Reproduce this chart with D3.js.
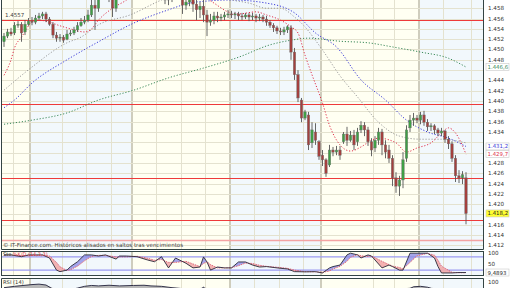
<!DOCTYPE html>
<html>
<head>
<meta charset="utf-8">
<script src="https://cdn.jsdelivr.net/npm/d3@7"></script>
<style>
html, body { margin: 0; padding: 0; background: #fff; overflow: hidden; }
svg { display: block; font-family: "DejaVu Sans", Verdana, sans-serif; }
</style>
</head>
<body>
<svg id="chart" width="512" height="288"></svg>
<script>
// candles (price), one per session
const opens = [1.4515,1.4526,1.4534,1.4532,1.4547,1.4549,1.4534,1.4549,1.4555,1.4553,
  1.4561,1.4565,1.4569,1.4559,1.4549,1.4528,1.4522,1.4524,1.4520,1.4530,
  1.4532,1.4538,1.4546,1.4553,1.4557,1.4567,1.4586,1.4580,1.4606,1.4619,
  1.4625,1.4606,1.4580,1.4602,1.4619,1.4635,1.4645,1.4639,1.4650,1.4643,
  1.4654,1.4646,1.4635,1.4639,1.4625,1.4615,1.4608,1.4596,1.4600,1.4608,
  1.4615,1.4604,1.4586,1.4592,1.4600,1.4588,1.4577,1.4584,1.4567,1.4553,
  1.4557,1.4565,1.4561,1.4563,1.4567,1.4569,1.4567,1.4569,1.4565,1.4563,
  1.4567,1.4563,1.4565,1.4561,1.4563,1.4559,1.4553,1.4547,1.4542,1.4536,
  1.4534,1.4538,1.4542,1.4495,1.4451,1.4402,1.4367,1.4373,1.4319,1.4340,
  1.4321,1.4295,1.4286,1.4276,1.4305,1.4301,1.4305,1.4321,1.4336,1.4324,
  1.4334,1.4321,1.4344,1.4353,1.4344,1.4321,1.4309,1.4324,1.4340,1.4315,
  1.4305,1.4289,1.4251,1.4235,1.4247,1.4289,1.4348,1.4363,1.4367,1.4363,
  1.4373,1.4359,1.4350,1.4352,1.4344,1.4338,1.4342,1.4326,1.4317,1.4289,
  1.4255,1.4251,1.4251];
const highs = [1.4532,1.4540,1.4542,1.4553,1.4555,1.4553,1.4557,1.4561,1.4563,1.4567,
  1.4571,1.4573,1.4573,1.4563,1.4553,1.4534,1.4530,1.4528,1.4538,1.4538,
  1.4544,1.4553,1.4561,1.4565,1.4577,1.4600,1.4606,1.4619,1.4631,1.4639,
  1.4635,1.4612,1.4615,1.4631,1.4646,1.4654,1.4658,1.4662,1.4660,1.4666,
  1.4664,1.4654,1.4650,1.4645,1.4635,1.4623,1.4615,1.4612,1.4619,1.4625,
  1.4623,1.4608,1.4602,1.4608,1.4608,1.4596,1.4592,1.4596,1.4577,1.4569,
  1.4573,1.4573,1.4569,1.4573,1.4577,1.4575,1.4573,1.4573,1.4571,1.4571,
  1.4571,1.4571,1.4569,1.4569,1.4567,1.4565,1.4557,1.4551,1.4546,1.4542,
  1.4544,1.4547,1.4547,1.4503,1.4460,1.4406,1.4383,1.4379,1.4359,1.4357,
  1.4324,1.4305,1.4289,1.4315,1.4311,1.4313,1.4313,1.4340,1.4350,1.4342,
  1.4344,1.4348,1.4361,1.4359,1.4350,1.4328,1.4332,1.4348,1.4346,1.4324,
  1.4315,1.4295,1.4262,1.4255,1.4301,1.4353,1.4373,1.4377,1.4373,1.4379,
  1.4381,1.4365,1.4357,1.4355,1.4348,1.4348,1.4344,1.4332,1.4322,1.4295,
  1.4266,1.4264,1.4262];
const lows = [1.4505,1.4522,1.4526,1.4528,1.4542,1.4515,1.4528,1.4546,1.4547,1.4549,
  1.4557,1.4559,1.4553,1.4546,1.4522,1.4515,1.4515,1.4513,1.4518,1.4526,
  1.4528,1.4534,1.4544,1.4549,1.4553,1.4563,1.4538,1.4573,1.4596,1.4606,
  1.4592,1.4563,1.4573,1.4596,1.4612,1.4625,1.4631,1.4631,1.4635,1.4635,
  1.4639,1.4625,1.4625,1.4615,1.4606,1.4600,1.4588,1.4586,1.4592,1.4600,
  1.4596,1.4569,1.4577,1.4584,1.4573,1.4557,1.4561,1.4553,1.4526,1.4546,
  1.4549,1.4553,1.4555,1.4557,1.4561,1.4561,1.4559,1.4557,1.4557,1.4559,
  1.4555,1.4557,1.4553,1.4555,1.4553,1.4546,1.4542,1.4534,1.4530,1.4528,
  1.4528,1.4532,1.4480,1.4441,1.4398,1.4359,1.4363,1.4305,1.4309,1.4315,
  1.4286,1.4274,1.4253,1.4272,1.4293,1.4295,1.4286,1.4317,1.4313,1.4321,
  1.4305,1.4313,1.4338,1.4332,1.4313,1.4293,1.4301,1.4315,1.4295,1.4289,
  1.4280,1.4235,1.4222,1.4216,1.4231,1.4282,1.4340,1.4352,1.4357,1.4355,
  1.4352,1.4342,1.4342,1.4336,1.4332,1.4332,1.4319,1.4307,1.4282,1.4243,
  1.4241,1.4239,1.4161];
const closes = [1.4526,1.4534,1.4530,1.4547,1.4549,1.4532,1.4549,1.4555,1.4553,1.4561,
  1.4565,1.4569,1.4559,1.4549,1.4528,1.4522,1.4524,1.4518,1.4530,1.4532,
  1.4538,1.4546,1.4553,1.4557,1.4567,1.4586,1.4580,1.4606,1.4619,1.4625,
  1.4606,1.4580,1.4602,1.4619,1.4635,1.4645,1.4639,1.4650,1.4643,1.4654,
  1.4646,1.4635,1.4639,1.4625,1.4615,1.4608,1.4596,1.4600,1.4608,1.4615,
  1.4604,1.4586,1.4592,1.4600,1.4588,1.4577,1.4584,1.4567,1.4553,1.4557,
  1.4565,1.4561,1.4563,1.4567,1.4569,1.4567,1.4569,1.4565,1.4563,1.4567,
  1.4563,1.4565,1.4561,1.4563,1.4559,1.4553,1.4547,1.4542,1.4536,1.4534,
  1.4538,1.4544,1.4495,1.4451,1.4406,1.4367,1.4379,1.4315,1.4344,1.4324,
  1.4293,1.4286,1.4260,1.4305,1.4301,1.4305,1.4295,1.4336,1.4324,1.4334,
  1.4315,1.4340,1.4353,1.4344,1.4321,1.4305,1.4324,1.4340,1.4315,1.4301,
  1.4289,1.4251,1.4235,1.4247,1.4286,1.4344,1.4363,1.4367,1.4363,1.4373,
  1.4359,1.4350,1.4352,1.4344,1.4338,1.4342,1.4326,1.4317,1.4289,1.4255,
  1.4251,1.4257,1.4182];

// moving averages at a few sessions
const redIdx = [0,2,3,5,8,10,13,16,19,23,25,27,31,35,39,47,55,60,64,67,72,75,79,82,84,86,88,91,93,96,99,102,105,107,112,115,118,122,125,127,129,132];
const redVals = [1.4450,1.4480,1.4503,1.4524,1.4553,1.4557,1.4553,1.4546,1.4540,1.4534,1.4540,1.4557,1.4580,1.4596,1.4619,1.4635,1.4612,1.4590,1.4573,1.4569,1.4573,1.4567,1.4557,1.4544,1.4532,1.4489,1.4451,1.4396,1.4353,1.4315,1.4303,1.4311,1.4324,1.4328,1.4319,1.4301,1.4309,1.4319,1.4338,1.4348,1.4338,1.4297];
const grayIdx = [0,8,18,22,27,36,45,53,65,70,75,79,83,85,91,96,101,107,113,119,125,132];
const grayVals = [1.4421,1.4466,1.4513,1.4524,1.4548,1.4567,1.4596,1.4615,1.4596,1.4590,1.4580,1.4580,1.4563,1.4551,1.4499,1.4449,1.4408,1.4359,1.4332,1.4326,1.4326,1.4319];
const blueIdx = [0,3,8,18,27,37,47,53,58,65,75,83,89,95,102,109,115,121,127,132];
const blueVals = [1.4387,1.4402,1.4435,1.4480,1.4515,1.4551,1.4577,1.4590,1.4594,1.4596,1.4590,1.4571,1.4532,1.4505,1.4441,1.4402,1.4363,1.4340,1.4328,1.4312];
const greenIdx = [0,8,18,27,37,47,57,67,76,82,87,96,104,111,119,127,132];
const greenVals = [1.4355,1.4363,1.4377,1.4402,1.4421,1.4445,1.4464,1.4485,1.4509,1.4518,1.4522,1.4516,1.4513,1.4505,1.4495,1.4483,1.4466];

// horizontal levels drawn on the price panel
const levels = [1.4557, 1.4394, 1.4250, 1.4170];
const softLevels = [1.4130];

// stochastic %K / %D
const stochIdx = [0,2,5,7,11,13,15,16,18,19,21,23,25,27,29,32,33,35,38,41,43,45,47,49,52,54,56,57,58,59,61,63,65,67,69,71,73,75,78,81,83,86,89,91,93,94,96,98,99,101,102,104,105,108,110,111,113,114,116,118,121,123,124,125,128,130,132];
const stochK = [89,89,81,89,89,75,20,13,20,36,58,89,89,84,89,70,84,84,81,66,58,81,30,75,51,30,34,80,57,20,34,30,30,57,57,43,34,36,30,25,13,12,13,7,30,36,43,89,97,89,75,89,84,30,43,36,20,20,97,97,97,75,36,7,7,9,9];
const stochD = [88,89,85,86,88,84,55,35,18,22,38,62,82,87,87,80,80,80,83,74,65,68,55,55,60,48,36,50,58,45,30,30,31,40,52,50,42,37,33,28,20,13,12,10,16,25,37,60,78,90,85,82,84,60,45,38,32,25,55,85,96,88,65,38,10,8,8];

// RSI (14)
const rsiIdx = [0,3,8,10,12,14,16,18,21,23,25,27,30,33,37,40,42,45,48,52,56,57,58,62,66,70,75,80,83,86,90,93,97,102,105,108,111,113,115,117,119,121,123,126,128,130,132];
const rsiVals = [72,78,86,88,84,65,55,60,70,78,82,80,83,80,82,83,80,78,72,66,60,75,55,58,60,56,50,45,25,18,20,30,40,45,40,42,30,28,60,76,78,74,64,50,40,30,25];

const priceTicks = [1.412,1.414,1.416,1.418,1.420,1.422,1.424,1.426,1.428,1.430,1.432,1.434,1.436,1.438,1.440,1.442,1.444,1.446,1.448,1.450,1.452,1.454,1.456,1.458];
const stochTicks = [100, 50];
const rsiTicks = [100];
const monthLines = [7.5, 36.5, 64.5, 90.5, 118.5];
const weekLines = [2.5, 16.5, 23.5, 30.5, 43.5, 50.5, 57.5, 71.5, 78.5, 85.5, 105.5, 111.5, 125.5, 133.5];

const LEFT = 2;
const RIGHT = 483;
const MAIN_TOP = 0;
const MAIN_BOTTOM = 249;
const STO_TOP = 251;
const STO_BOTTOM = 276;
const RSI_TOP = 278;
const RSI_BOTTOM = 300;

const YELLOW = "#fffff2";
const BLUE = "#f2f8fc";
const GRID = "#e4e2cf";
const BORDER = "#344444";

const svg = d3.select("#chart");
const x = d3.scaleLinear().domain([0, 132]).range([4, 466]);
const y = d3.scaleLinear().domain([1.4115, 1.4596]).range([248, 0]);
const ySto = d3.scaleLinear().domain([0, 100]).range([274.5, 252.5]);
const yRsi = d3.scaleLinear().domain([0, 100]).range([303.5, 281.5]);

svg.append("rect").attr("width", 512).attr("height", 288).attr("fill", "#fff");

const defs = svg.append("defs");
const clip = (id, top, bottom) => {
  defs.append("clipPath").attr("id", id)
    .append("rect").attr("x", LEFT).attr("y", top)
    .attr("width", RIGHT - LEFT).attr("height", bottom - top);
};
clip("clipMain", MAIN_TOP, MAIN_BOTTOM);
clip("clipSto", STO_TOP, STO_BOTTOM);
clip("clipRsi", RSI_TOP, RSI_BOTTOM);

// month bands + vertical grid in each panel
const edges = [LEFT, ...monthLines.map(x), RIGHT];
const panelBack = (top, bottom) => {
  const g = svg.append("g");
  g.selectAll("rect").data(d3.pairs(edges)).join("rect")
    .attr("x", (d) => d[0]).attr("y", top)
    .attr("width", (d) => d[1] - d[0]).attr("height", bottom - top)
    .attr("fill", (d, i) => (i % 2 ? BLUE : YELLOW));
  g.selectAll(".wk").data(weekLines).join("line").attr("class", "wk")
    .attr("x1", (d) => Math.round(x(d)) + 0.5).attr("x2", (d) => Math.round(x(d)) + 0.5)
    .attr("y1", top).attr("y2", bottom)
    .attr("stroke", GRID).attr("stroke-width", 1);
  g.selectAll(".mo").data(monthLines).join("line").attr("class", "mo")
    .attr("x1", (d) => Math.round(x(d))).attr("x2", (d) => Math.round(x(d)))
    .attr("y1", top).attr("y2", bottom)
    .attr("stroke", "#cfcdbd").attr("stroke-width", 2);
  return g;
};

const main = panelBack(MAIN_TOP, MAIN_BOTTOM);
main.selectAll(".hg").data(priceTicks).join("line").attr("class", "hg")
  .attr("x1", LEFT).attr("x2", RIGHT)
  .attr("y1", (d) => Math.round(y(d)) + 0.5).attr("y2", (d) => Math.round(y(d)) + 0.5)
  .attr("stroke", GRID);

const plot = svg.append("g").attr("clip-path", "url(#clipMain)");

plot.selectAll(".lvl").data(levels).join("line").attr("class", "lvl")
  .attr("x1", LEFT).attr("x2", RIGHT)
  .attr("y1", (d) => Math.round(y(d)) + 0.5).attr("y2", (d) => Math.round(y(d)) + 0.5)
  .attr("stroke", "#ee3a3a").attr("stroke-width", 1.2);
plot.selectAll(".slvl").data(softLevels).join("line").attr("class", "slvl")
  .attr("x1", LEFT).attr("x2", RIGHT)
  .attr("y1", (d) => Math.round(y(d)) + 0.5).attr("y2", (d) => Math.round(y(d)) + 0.5)
  .attr("stroke", "#f4a3a3").attr("stroke-width", 1.5);

// moving averages
const maLine = d3.line().x((d) => x(d[0])).y((d) => y(d[1])).curve(d3.curveMonotoneX);
const averages = [
  { idx: greenIdx, vals: greenVals, color: "#3c8a5a" },
  { idx: blueIdx, vals: blueVals, color: "#3a3ad8" },
  { idx: grayIdx, vals: grayVals, color: "#9a9a9a" },
  { idx: redIdx, vals: redVals, color: "#e0304a" },
];
averages.forEach((ma) => {
  plot.append("path")
    .datum(d3.zip(ma.idx, ma.vals))
    .attr("d", maLine)
    .attr("fill", "none")
    .attr("stroke", ma.color)
    .attr("stroke-width", 1)
    .attr("stroke-dasharray", "1.2,1.8");
});

// candles
const candles = d3.range(closes.length).map((i) => ({
  i, o: opens[i], h: highs[i], l: lows[i], c: closes[i],
}));
const cg = plot.selectAll(".candle").data(candles).join("g").attr("class", "candle");
cg.append("line")
  .attr("x1", (d) => x(d.i)).attr("x2", (d) => x(d.i))
  .attr("y1", (d) => y(d.h)).attr("y2", (d) => y(d.l))
  .attr("stroke", "#555").attr("stroke-width", 0.9);
cg.append("rect")
  .attr("x", (d) => x(d.i) - 1.2)
  .attr("y", (d) => y(Math.max(d.o, d.c)))
  .attr("width", 2.4)
  .attr("height", (d) => Math.max(1, Math.abs(y(d.o) - y(d.c))))
  .attr("fill", (d) => (d.c >= d.o ? "#3f9f45" : "#a3403e"))
  .attr("stroke", "#6a6a6a")
  .attr("stroke-width", 0.4);

svg.append("text").attr("x", 5).attr("y", 17)
  .attr("font-size", 5.5).attr("fill", "#444").text("1.4557");

svg.append("text").attr("x", 3).attr("y", 246.5)
  .attr("font-size", 5.6).attr("fill", "#444")
  .attr("textLength", 180).attr("lengthAdjust", "spacingAndGlyphs")
  .text("© IT-Finance.com. Históricos alisados en saltos tras vencimientos");

// stochastic panel
panelBack(STO_TOP, STO_BOTTOM);
const stoG = svg.append("g").attr("clip-path", "url(#clipSto)");
stoG.selectAll(".band").data([80, 20]).join("line").attr("class", "band")
  .attr("x1", LEFT).attr("x2", RIGHT)
  .attr("y1", (d) => ySto(d)).attr("y2", (d) => ySto(d))
  .attr("stroke", "#9a9af2").attr("stroke-width", 1.4);

const stoData = stochIdx.map((i, k) => ({ i, k: stochK[k], d: stochD[k] }));
defs.append("clipPath").attr("id", "aboveD").append("path")
  .attr("d", d3.area().x((d) => x(d.i)).y0(STO_TOP - 5).y1((d) => ySto(d.d))(stoData));
defs.append("clipPath").attr("id", "belowD").append("path")
  .attr("d", d3.area().x((d) => x(d.i)).y0(STO_BOTTOM + 5).y1((d) => ySto(d.d))(stoData));
const between = d3.area().x((d) => x(d.i)).y0((d) => ySto(d.d)).y1((d) => ySto(d.k));
stoG.append("g").attr("clip-path", "url(#aboveD)")
  .append("path").attr("d", between(stoData)).attr("fill", "#8f8fe6").attr("opacity", 0.8);
stoG.append("g").attr("clip-path", "url(#belowD)")
  .append("path").attr("d", between(stoData)).attr("fill", "#f2aaaa").attr("opacity", 0.9);
stoG.append("path")
  .attr("d", d3.line().x((d) => x(d.i)).y((d) => ySto(d.d))(stoData))
  .attr("fill", "none").attr("stroke", "#e05060").attr("stroke-width", 0.8)
  .attr("stroke-dasharray", "1.5,1");
stoG.append("path")
  .attr("d", d3.line().x((d) => x(d.i)).y((d) => ySto(d.k))(stoData))
  .attr("fill", "none").attr("stroke", "#2a2a3a").attr("stroke-width", 0.9);

const stoLabel = svg.append("text").attr("x", 3).attr("y", 256).attr("font-size", 5);
stoLabel.append("tspan").attr("fill", "#333").text("Sto ");
stoLabel.append("tspan").attr("fill", "#e04050").text("%K/D (14,3,3)");

// RSI panel
panelBack(RSI_TOP, RSI_BOTTOM);
const rsiG = svg.append("g").attr("clip-path", "url(#clipRsi)");
const rsiData = rsiIdx.map((i, k) => ({ i, v: rsiVals[k] }));
rsiG.append("path")
  .attr("d", d3.area().x((d) => x(d.i)).y0(yRsi(70)).y1((d) => yRsi(Math.max(70, d.v)))(rsiData))
  .attr("fill", "#b8b8b8");
rsiG.append("path")
  .attr("d", d3.line().x((d) => x(d.i)).y((d) => yRsi(d.v))(rsiData))
  .attr("fill", "none").attr("stroke", "#20203a").attr("stroke-width", 0.9);
svg.append("text").attr("x", 3).attr("y", 284).attr("font-size", 5.2)
  .attr("fill", "#333").text("RSI (14)");

// panel borders
const border = svg.append("g").attr("fill", "none").attr("stroke", BORDER).attr("stroke-width", 1);
border.append("path").attr("d", `M${LEFT - 0.5},0V${MAIN_BOTTOM + 0.5}H${RIGHT + 0.5}V0`);
border.append("rect").attr("x", LEFT - 0.5).attr("y", STO_TOP + 0.5)
  .attr("width", RIGHT - LEFT + 1).attr("height", STO_BOTTOM - STO_TOP - 1);
border.append("path").attr("d", `M${LEFT - 0.5},300V${RSI_TOP + 0.5}H${RIGHT + 0.5}V300`);

// right axis: last-value tags hide the ticks they cover
const tagText = (v) => {
  const s = v.toFixed(4);
  return s.slice(0, 5) + "," + s.slice(5);
};
const tags = [
  { v: greenVals[greenVals.length - 1], color: "#3c8a5a", bg: "#fff" },
  { v: blueVals[blueVals.length - 1], color: "#3a3ad8", bg: "#fff" },
  { v: redVals[redVals.length - 1], color: "#e0304a", bg: "#fff" },
  { v: closes[closes.length - 1], color: "#222", bg: "#ffff30" },
];
const freeTicks = priceTicks.filter((t) => tags.every((g) => Math.abs(y(t) - y(g.v)) > 6.5));

const axisG = svg.append("g").attr("font-size", 5.6).attr("fill", "#333");
axisG.selectAll(".pt").data(freeTicks).join("text").attr("class", "pt")
  .attr("x", 488).attr("y", (d) => y(d) + 2)
  .text(d3.format(".3f"));
axisG.selectAll(".st").data(stochTicks.filter((t) => Math.abs(ySto(t) - ySto(stochK[stochK.length - 1])) > 6))
  .join("text").attr("class", "st")
  .attr("x", 488).attr("y", (d) => ySto(d) + 2).text((d) => d);
axisG.selectAll(".rt").data(rsiTicks).join("text").attr("class", "rt")
  .attr("x", 488).attr("y", (d) => yRsi(d) + 2).text((d) => d);

const tg = svg.selectAll(".tag").data(tags).join("g").attr("class", "tag");
tg.append("rect")
  .attr("x", 486).attr("y", (d) => y(d.v) - 3.5)
  .attr("width", 23).attr("height", 7)
  .attr("fill", (d) => d.bg).attr("stroke", "#c8c8c8").attr("stroke-width", 0.6);
tg.append("text")
  .attr("x", 487.5).attr("y", (d) => y(d.v) + 2)
  .attr("font-size", 5.4).attr("fill", (d) => d.color)
  .text((d) => tagText(d.v));

const stoLast = stochK[stochK.length - 1];
svg.append("rect").attr("x", 486).attr("y", ySto(stoLast) - 3.5)
  .attr("width", 23).attr("height", 7)
  .attr("fill", "#fff").attr("stroke", "#c8c8c8").attr("stroke-width", 0.6);
svg.append("text").attr("x", 487.5).attr("y", ySto(stoLast) + 2)
  .attr("font-size", 5.4).attr("fill", "#222").text("9,4893");
</script>
</body>
</html>
